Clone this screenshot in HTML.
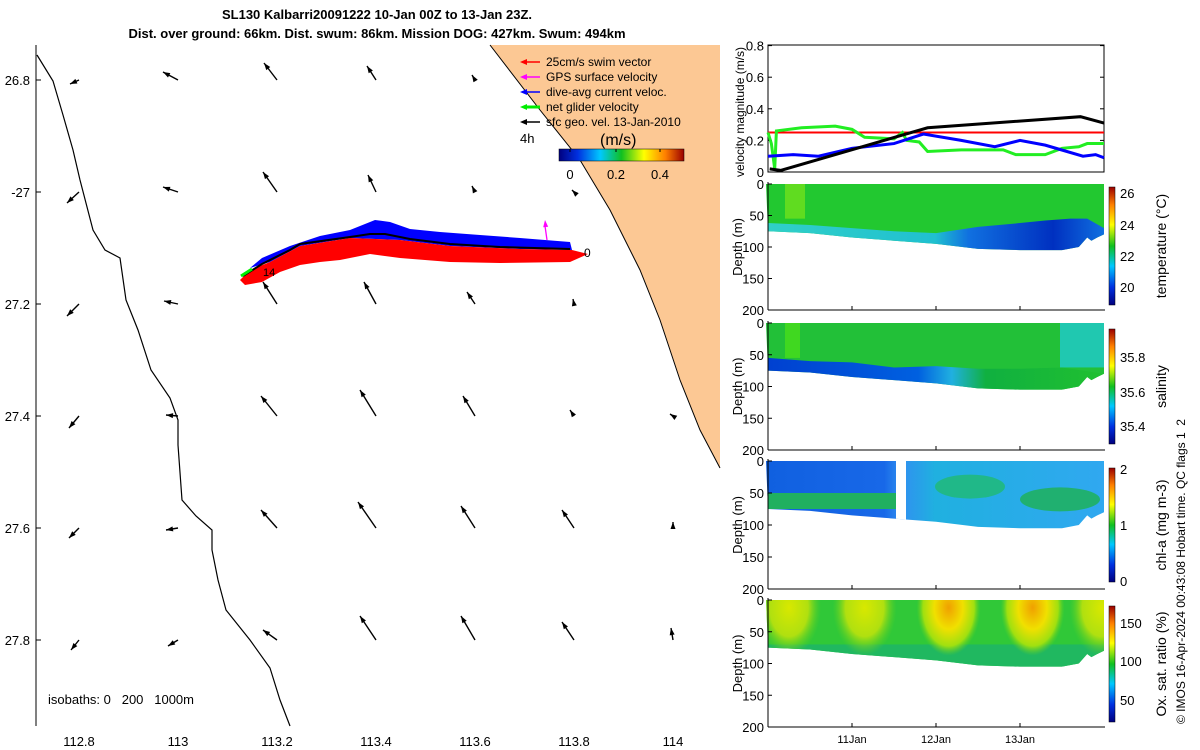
<!DOCTYPE html>
<html><head><meta charset="utf-8"><style>
body{margin:0;background:#fff;}
svg{display:block;font-family:"Liberation Sans","DejaVu Sans",sans-serif;}
</style></head><body>
<svg id="s" width="1200" height="750" viewBox="0 0 1200 750">
<defs>
<linearGradient id="jet" x1="0" y1="1" x2="0" y2="0">
<stop offset="0" stop-color="#00007f"/><stop offset="0.15" stop-color="#0030e0"/><stop offset="0.33" stop-color="#00c8ff"/><stop offset="0.5" stop-color="#10c020"/><stop offset="0.68" stop-color="#ffff00"/><stop offset="0.85" stop-color="#ff8000"/><stop offset="1" stop-color="#9a0000"/></linearGradient>
<linearGradient id="jeth" x1="0" y1="0" x2="1" y2="0">
<stop offset="0" stop-color="#00007f"/><stop offset="0.15" stop-color="#0030e0"/><stop offset="0.33" stop-color="#00c8ff"/><stop offset="0.5" stop-color="#10c020"/><stop offset="0.68" stop-color="#ffff00"/><stop offset="0.85" stop-color="#ff8000"/><stop offset="1" stop-color="#9a0000"/></linearGradient>
<linearGradient id="tlow" x1="0" y1="0" x2="1" y2="0"><stop offset="0" stop-color="#30d0c8"/><stop offset="0.5" stop-color="#20c0d0"/><stop offset="0.6" stop-color="#1070e0"/><stop offset="0.85" stop-color="#0030c0"/><stop offset="1" stop-color="#1070e0"/></linearGradient>
<linearGradient id="slow" x1="0" y1="0" x2="1" y2="0"><stop offset="0" stop-color="#0040d0"/><stop offset="0.45" stop-color="#0060e0"/><stop offset="0.55" stop-color="#20b0e0"/><stop offset="0.65" stop-color="#10b040"/><stop offset="1" stop-color="#20c030"/></linearGradient>
<linearGradient id="chl" x1="0" y1="0" x2="1" y2="0"><stop offset="0" stop-color="#1060e0"/><stop offset="0.35" stop-color="#1868e8"/><stop offset="0.4" stop-color="#3090f0"/><stop offset="0.5" stop-color="#20b0e0"/><stop offset="1" stop-color="#30a8f0"/></linearGradient>
<radialGradient id="blob"><stop offset="0" stop-color="#f0a000"/><stop offset="0.45" stop-color="#f0e000"/><stop offset="0.8" stop-color="#a0e010"/><stop offset="1" stop-color="#60d020" stop-opacity="0"/></radialGradient>
<radialGradient id="blob2"><stop offset="0" stop-color="#d8e800"/><stop offset="0.6" stop-color="#b0e010"/><stop offset="1" stop-color="#60d020" stop-opacity="0"/></radialGradient>
</defs>
<g id="map"></g>
<g id="right"></g>
</svg>
<script>
const NS='http://www.w3.org/2000/svg';
const svg=document.getElementById('s');
function mk(tag,attrs,parent,txt){const e=document.createElementNS(NS,tag);for(const k in attrs)e.setAttribute(k,attrs[k]);if(txt!==undefined)e.textContent=txt;(parent||svg).appendChild(e);return e;}
const map=document.getElementById('map');const right=document.getElementById('right');
function head(x,y,ux,uy,col,len,wid,parent){const L=Math.hypot(ux,uy)||1;const dx=ux/L,dy=uy/L;const bx=x-dx*len,by=y-dy*len;
 return mk('polygon',{points:`${x},${y} ${bx-dy*wid/2},${by+dx*wid/2} ${bx+dy*wid/2},${by-dx*wid/2}`,fill:col},parent);}

// ---------- MAP DATA ----------
const lonTicks=[112.8,113,113.2,113.4,113.6,113.8,114];
const latTicks=[-26.8,-27,-27.2,-27.4,-27.6,-27.8];
const latLabels=['26.8','-27','27.2','27.4','27.6','27.8'];
const arrowU=[[-9,-15,-13,-9,-3,0,0],[-12,-15,-14,-8,-3,-2,0],[-12,-14,-14,-12,-8,-1,0],[-10,-12,-16,-16,-12,-4,-3],[-10,-12,-16,-18,-14,-12,0],[-8,-10,-14,-16,-14,-12,-2]];
const arrowV=[[4,-8,-17,-14,-5,0,0],[11,-5,-20,-17,-6,-2,0],[12,-3,-22,-22,-12,-5,0],[12,-1,-20,-26,-20,-6,-2],[10,2,-18,-26,-22,-18,-6],[10,6,-10,-24,-24,-18,-12]];
const lonX=l=>79+(l-112.8)*495;
const latY=l=>80+(-26.8-l)*560;

const land=mk('polygon',{points:'490,45 720,45 720,468 700,430 680,380 660,320 640,270 610,210 580,160 540,110',fill:'#fcc894'},map);

mk('polyline',{points:'490,45 540,110 580,160 610,210 640,270 660,320 680,380 700,430 720,468',fill:'none',stroke:'#000','stroke-width':1},map);
const coast=mk('polyline',{points:'37,55 53,81 63,115 73,150 80,180 93,230 105,250 120,258 126,300 138,330 151,370 170,398 178,420 178,445 182,500 196,516 212,530 212,550 218,580 226,610 250,640 270,668 280,700 290,726',fill:'none',stroke:'#000','stroke-width':1.2},map);

mk('line',{x1:36,y1:45,x2:36,y2:726,stroke:'#000','stroke-width':1},map);
latTicks.forEach((l,i)=>{const y=latY(l);mk('line',{x1:36,y1:y,x2:41,y2:y,stroke:'#000'},map);
 const t=mk('text',{x:30,y:y+5,'text-anchor':'end','font-size':13},map,latLabels[i]);});
lonTicks.forEach(l=>{const x=lonX(l);const t=mk('text',{x:x,y:746,'text-anchor':'middle','font-size':13},map,String(l));});
latTicks.forEach((la,i)=>lonTicks.forEach((lo,j)=>{const u=arrowU[i][j],v=arrowV[i][j];if(!u&&!v)return;const x=lonX(lo),y=latY(la);
 const g=mk('g',{},map);
 
 
 mk('line',{x1:x,y1:y,x2:x+u,y2:y+v,stroke:'#000','stroke-width':1.4},g);
 head(x+u,y+v,u,v,'#000',7,5,g);}));
// track
const blue=mk('polygon',{points:'250,268 262,258 290,246 320,236 350,230 375,220 390,222 410,229 440,232 480,235 520,238 570,242 572,250 520,249 450,246 400,240 350,238 300,246 270,262',fill:'#0000ff'},map);

const red=mk('polygon',{points:'240,280 250,270 270,262 300,246 350,238 400,240 450,246 520,249 572,250 588,254 570,262 500,263 450,262 400,258 370,254 340,260 320,262 300,265 280,272 262,282 245,285',fill:'#ff0000'},map);

mk('polyline',{points:'243,276 262,264 290,250 300,244 350,237 370,234 385,234 410,239 450,244 500,247 570,249',fill:'none',stroke:'#000','stroke-width':2},map);
mk('line',{x1:241,y1:276,x2:252,y2:269,stroke:'#00ee00','stroke-width':3},map);
mk('line',{x1:547,y1:240,x2:545,y2:226,stroke:'#ff00ff','stroke-width':1.3},map);
head(545,220,-0.3,-3,'#ff00ff',7,5,map);
mk('text',{x:263,y:276,'font-size':11},map,'14');
mk('text',{x:584,y:257,'font-size':12},map,'0');
const leg=[['#ff0000','25cm/s swim vector'],['#ff00ff','GPS surface velocity'],['#0000ff','dive-avg current veloc.'],['#00ee00','net glider velocity'],['#000','sfc geo. vel. 13-Jan-2010']];
leg.forEach((d,i)=>{const y=62+i*15;const g=mk('g',{},map);
 mk('line',{x1:540,y1:y,x2:526,y2:y,stroke:d[0],'stroke-width':i==3?3:1.5},g);head(520,y,-1,0,d[0],7,6,g);
 mk('text',{x:546,y:y+4,'font-size':12},g,d[1]);});
mk('text',{x:520,y:143,'font-size':13},map,'4h');
mk('text',{x:600,y:145,'font-size':16},map,'(m/s)');
const cb=mk('rect',{x:559,y:149,width:125,height:12,fill:'url(#jeth)',stroke:'#000','stroke-width':0.5},map);

[['0',570],['0.2',616],['0.4',660]].forEach(d=>{mk('line',{x1:d[1],y1:149,x2:d[1],y2:152,stroke:'#000'},map);mk('text',{x:d[1],y:179,'font-size':13,'text-anchor':'middle'},map,d[0]);});
mk('text',{x:48,y:704,'font-size':13,'xml:space':'preserve',style:'white-space:pre'},map,'isobaths: 0   200   1000m');
const t1=mk('text',{x:377,y:19,'text-anchor':'middle','font-size':13,'font-weight':'bold'},svg,'SL130 Kalbarri20091222 10-Jan 00Z to 13-Jan 23Z.');

const t2=mk('text',{x:377,y:38,'text-anchor':'middle','font-size':13,'font-weight':'bold'},svg,'Dist. over ground: 66km. Dist. swum: 86km. Mission DOG: 427km. Swum: 494km');


// ---------- VELOCITY CHART DATA ----------
const velTicks=[0,0.2,0.4,0.6,0.8];
const dayTicks=[1,2,3];const dayLabels=['11Jan','12Jan','13Jan'];
const blackT=[0.02,0.15,1.9,3.72,4.0];const blackV=[0.02,0.01,0.28,0.35,0.31];
const redT=[0,4];const redV=[0.25,0.25];
const blueT=[0,0.3,0.6,1.0,1.5,1.85,2.3,2.7,3.0,3.3,3.75,3.9,4.0];const blueV=[0.1,0.11,0.1,0.15,0.18,0.24,0.2,0.16,0.2,0.17,0.1,0.11,0.09];
const greenT=[0,0.04,0.08,0.1,0.4,0.8,1.0,1.15,1.5,1.6,1.65,1.8,1.9,2.3,2.8,2.95,3.3,3.5,3.7,3.8,4.0];
const greenV=[0.25,0.18,0.02,0.26,0.28,0.29,0.27,0.22,0.21,0.25,0.2,0.19,0.13,0.14,0.14,0.11,0.11,0.15,0.16,0.18,0.18];
const X=t=>768+t*84;
const VY=v=>172-v*158;
const vp=mk('g',{},right);
mk('rect',{x:768,y:45,width:336,height:127,fill:'none',stroke:'#000'},vp);
velTicks.forEach(v=>{mk('line',{x1:768,y1:VY(v),x2:772,y2:VY(v),stroke:'#000'},vp);mk('line',{x1:1100,y1:VY(v),x2:1104,y2:VY(v),stroke:'#000'},vp);
 mk('text',{x:764,y:VY(v)+5,'text-anchor':'end','font-size':13},vp,String(v));});
mk('text',{transform:'translate(744,112) rotate(-90)','text-anchor':'middle','font-size':12},vp,'velocity magnitude (m/s)');
function line(T,V,col,w,name){const p=mk('polyline',{points:T.map((t,i)=>X(t)+','+VY(V[i])).join(' '),fill:'none',stroke:col,'stroke-width':w},vp);}
line(redT,redV,'#ff0000',2,'swim-speed-line');
line(greenT,greenV,'#22ee22',3,'net-glider-velocity-line');
line(blueT,blueV,'#0000ff',3,'dive-avg-current-line');
line(blackT,blackV,'#000',3,'sfc-geo-velocity-line');

// ---------- DEPTH SECTIONS ----------
const bottomT=[0,0.5,1,1.5,2,2.5,3,3.5,3.7,3.8,3.85,3.92,4];
const bottomD=[75,78,85,90,95,103,105,105,100,85,90,85,80];
const thermoT=[0,0.5,1,1.5,2,2.5,3,3.3,3.6,3.8,4];const thermoD=[62,65,70,75,78,68,62,58,55,55,70];
const haloT=[0,0.5,1,1.5,2,2.5,3,3.5,4];const haloD=[55,60,62,70,68,72,72,70,80];
const panels=[
 {top:184,bot:310,name:'temperature-section',label:'temperature (°C)',cbTicks:[26,24,22,20],cbTickY:[193,225,256,287],cb:[187,118]},
 {top:323,bot:450,name:'salinity-section',label:'salinity',cbTicks:['35.8','35.6','35.4'],cbTickY:[357,392,426],cb:[329,115]},
 {top:461,bot:589,name:'chlorophyll-section',label:'chl-a (mg m-3)',cbTicks:[2,1,0],cbTickY:[469,525,581],cb:[468,114]},
 {top:600,bot:727,name:'oxygen-section',label:'Ox. sat. ratio (%)',cbTicks:[150,100,50],cbTickY:[623,661,700],cb:[606,116]}];
const depthTicks=[0,50,100,150,200];
panels.forEach((P,pi)=>{
 const g=mk('g',{},right);
 const DY=d=>P.top+d*(P.bot-P.top)/200;
 const cid='clip'+pi;const cp=mk('clipPath',{id:cid},g);
 mk('polygon',{points:['766,'+DY(0),'1104,'+DY(0)].concat(bottomT.slice().reverse().map((t,i)=>X(t)+','+DY(bottomD[bottomT.length-1-i]))).join(' ')},cp);
 const f=mk('g',{'clip-path':'url(#'+cid+')'},g);
 if(pi==0){mk('rect',{x:766,y:DY(0),width:338,height:130,fill:'#22c830'},f);mk('rect',{x:785,y:DY(0),width:20,height:DY(55)-DY(0),fill:'#60dc20'},f);
  mk('polygon',{points:thermoT.map((t,i)=>X(t)+','+DY(thermoD[i])).concat(['1104,'+DY(200),'766,'+DY(200)]).join(' '),fill:'url(#tlow)'},f);}
 if(pi==1){mk('rect',{x:766,y:DY(0),width:338,height:130,fill:'#22c038'},f);mk('rect',{x:785,y:DY(0),width:15,height:DY(55)-DY(0),fill:'#40d820'},f);mk('rect',{x:1060,y:DY(0),width:44,height:DY(70)-DY(0),fill:'#20c8b0'},f);
  mk('polygon',{points:haloT.map((t,i)=>X(t)+','+DY(haloD[i])).concat(['1104,'+DY(200),'766,'+DY(200)]).join(' '),fill:'url(#slow)'},f);}
 if(pi==2){mk('rect',{x:766,y:DY(0),width:338,height:130,fill:'url(#chl)'},f);mk('rect',{x:766,y:DY(50),width:130,height:DY(75)-DY(50),fill:'#20b060'},f);
  mk('ellipse',{cx:970,cy:DY(40),rx:35,ry:12,fill:'#20b888'},f);mk('ellipse',{cx:1060,cy:DY(60),rx:40,ry:12,fill:'#20b070'},f);
  mk('rect',{x:896,y:DY(0),width:10,height:140,fill:'#fff'},f);}
 if(pi==3){mk('rect',{x:766,y:DY(0),width:338,height:130,fill:'#30c838'},f);mk('rect',{x:766,y:DY(70),width:338,height:60,fill:'#20b860'},f);
  [[0.25,'blob2'],[1.15,'blob2'],[2.15,'blob'],[3.15,'blob'],[3.97,'blob2']].forEach(b=>mk('ellipse',{cx:X(b[0]),cy:DY(12),rx:32,ry:48,fill:'url(#'+b[1]+')'},f));}
 mk('line',{x1:768,y1:P.top-2,x2:768,y2:P.bot,stroke:'#000'},g);
 mk('line',{x1:768,y1:P.bot,x2:1105,y2:P.bot,stroke:'#000'},g);
 depthTicks.forEach(d=>{mk('line',{x1:768,y1:DY(d),x2:772,y2:DY(d),stroke:'#000'},g);mk('text',{x:764,y:DY(d)+5,'text-anchor':'end','font-size':13},g,String(d));});
 dayTicks.forEach(t=>mk('line',{x1:X(t),y1:P.bot,x2:X(t),y2:P.bot-4,stroke:'#000'},g));
 mk('text',{transform:`translate(742,${(P.top+P.bot)/2}) rotate(-90)`,'text-anchor':'middle','font-size':13},g,'Depth (m)');
 const c=mk('rect',{x:1109,y:P.cb[0],width:6,height:P.cb[1],fill:'url(#jet)',stroke:'#000','stroke-width':0.5},g);
 P.cbTicks.forEach((v,i)=>mk('text',{x:1120,y:P.cbTickY[i]+5,'font-size':13},g,String(v)));
 mk('text',{transform:`translate(1166,${P.cb[0]+P.cb[1]/2}) rotate(-90)`,'text-anchor':'middle','font-size':14},g,P.label);
});
dayTicks.forEach((t,i)=>{const l=mk('text',{x:X(t),y:743,'text-anchor':'middle','font-size':11},right,dayLabels[i]);});
const cr=mk('text',{transform:'translate(1185,724) rotate(-90)','font-size':12,style:'white-space:pre'},svg,'© IMOS 16-Apr-2024 00:43:08 Hobart time. QC flags 1  2');

</script>
</body></html>
